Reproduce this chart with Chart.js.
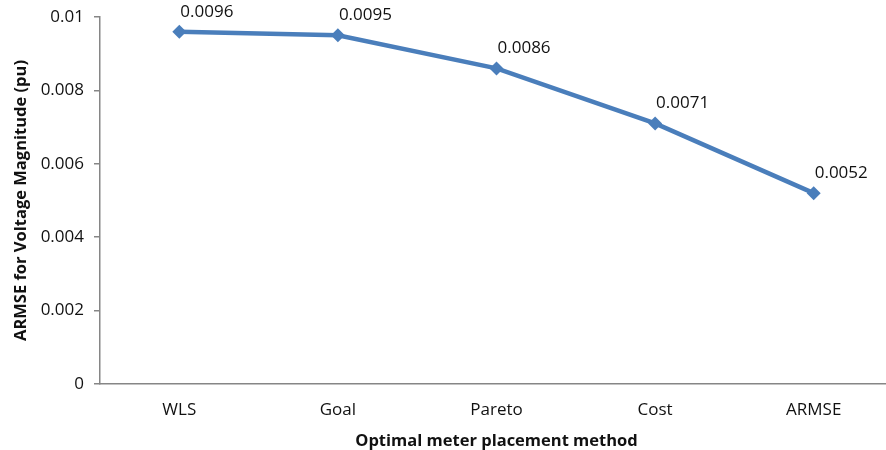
<!DOCTYPE html>
<html>
<head>
<meta charset="utf-8">
<script src="https://cdn.jsdelivr.net/npm/chart.js@4/dist/chart.umd.min.js"></script>
<style>
  html, body { margin: 0; padding: 0; background: #fff; overflow: hidden; }
  #wrap { width: 886px; height: 450px; overflow: hidden; }
</style>
</head>
<body>
<div id="wrap"><canvas id="c" width="900" height="450"></canvas></div>
<script>
// Placement methods and their ARMSE for voltage magnitude (pu)
const methods = ['WLS', 'Goal', 'Pareto', 'Cost', 'ARMSE'];
const armseValues = [0.0096, 0.0095, 0.0086, 0.0071, 0.0052];
const yTickValues = [0, 0.002, 0.004, 0.006, 0.008, 0.01];

const FONT = '"Open Sans", "Noto Sans", sans-serif';
const AXIS_GREY = '#868686';
const LINE_BLUE = '#4A7EBB';

// Value labels drawn above and to the right of each marker
const valueLabels = {
  id: 'valueLabels',
  afterDatasetsDraw(chart) {
    const ctx = chart.ctx;
    const meta = chart.getDatasetMeta(0);
    const values = chart.data.datasets[0].data;
    ctx.save();
    ctx.font = '17px ' + FONT;
    ctx.fillStyle = '#111';
    ctx.textAlign = 'left';
    ctx.textBaseline = 'middle';
    meta.data.forEach((pt, i) => {
      ctx.fillText(values[i].toFixed(4), pt.x + 1, pt.y - 20);
    });
    ctx.restore();
  }
};

new Chart(document.getElementById('c'), {
  type: 'line',
  data: {
    labels: methods,
    datasets: [{
      data: armseValues,
      borderColor: LINE_BLUE,
      backgroundColor: LINE_BLUE,
      borderWidth: 4.5,
      pointStyle: 'rectRot',
      pointRadius: 7,
      pointBorderWidth: 0,
      tension: 0,
      fill: false
    }]
  },
  options: {
    responsive: false,
    animation: false,
    devicePixelRatio: 1,
    layout: { padding: { left: 0, right: 3, top: 17, bottom: 0 } },
    plugins: {
      legend: { display: false },
      tooltip: { enabled: false }
    },
    scales: {
      x: {
        type: 'category',
        offset: true,
        grid: { display: false, drawTicks: false },
        border: { display: true, color: AXIS_GREY, width: 1.5 },
        ticks: {
          color: '#111',
          font: { family: FONT, size: 17 },
          padding: 16,
          maxRotation: 0
        },
        title: {
          display: true,
          text: 'Optimal meter placement method',
          color: '#111',
          font: { family: FONT, size: 16.5, weight: 'bold' },
          padding: { top: 0, bottom: -1.5 }
        },
        afterFit(scale) { scale.height = 66; }
      },
      y: {
        min: 0,
        max: 0.01,
        afterBuildTicks(scale) {
          scale.ticks = yTickValues.map(v => ({ value: v }));
        },
        ticks: {
          color: '#111',
          font: { family: FONT, size: 17 },
          padding: 10,
          callback: v => String(Number(v.toFixed(3)))
        },
        grid: {
          drawOnChartArea: false,
          drawTicks: true,
          tickLength: 6,
          color: AXIS_GREY,
          lineWidth: 1.5
        },
        border: { display: true, color: AXIS_GREY, width: 1.5 },
        title: {
          display: true,
          text: 'ARMSE for Voltage Magnitude (pu)',
          color: '#111',
          font: { family: FONT, size: 16.5, weight: 'bold' },
          padding: { top: 11, bottom: 0 }
        },
        afterFit(scale) {
          scale.width = 100;
          scale.paddingTop = 0;
          scale.paddingBottom = 0;
        }
      }
    }
  },
  plugins: [valueLabels]
});
</script>
</body>
</html>
